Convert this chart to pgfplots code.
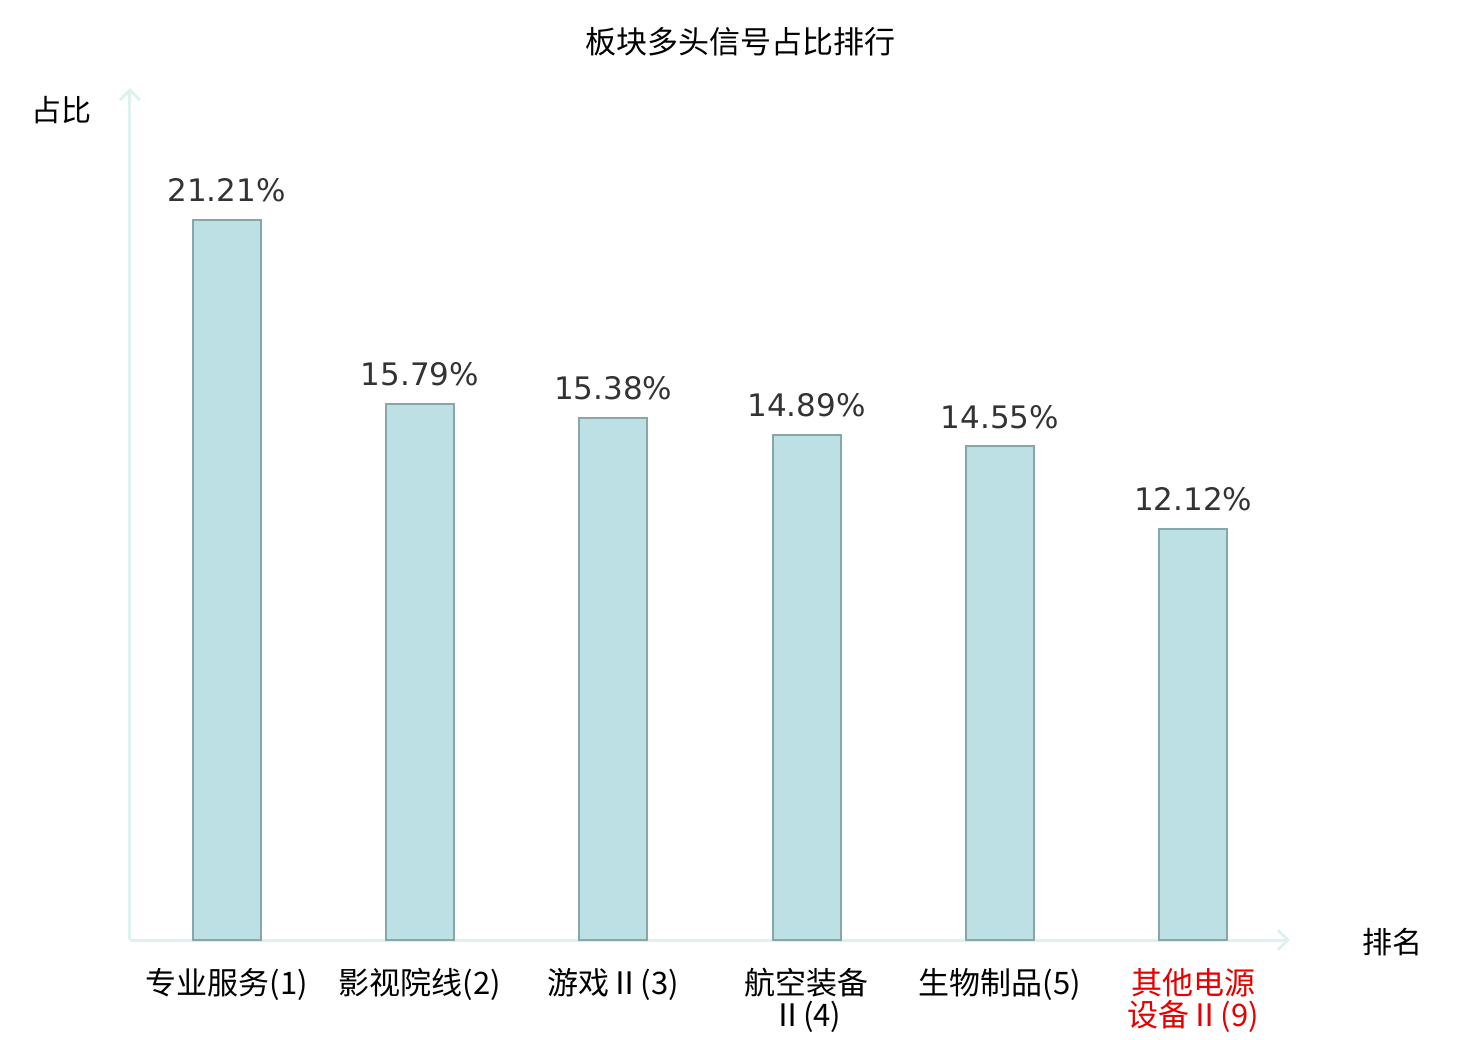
\documentclass[border=0pt]{standalone}
\usepackage{pgfplots}
\pgfplotsset{compat=1.18}
\usepackage{fontspec}
\setmainfont{DejaVu Sans}
\newfontfamily\cjk{Noto Sans CJK SC}
\usetikzlibrary{arrows.meta}
\definecolor{barfill}{HTML}{BCE0E3}
\definecolor{baredge}{HTML}{86A6A8}
\definecolor{axiscol}{HTML}{DDF2EF}
\definecolor{labred}{HTML}{E60000}
\definecolor{valcol}{HTML}{333333}
\begin{document}
\begin{tikzpicture}
\useasboundingbox (-65pt,-50pt) rectangle (675pt,470pt);
\begin{axis}[
  at={(0,0)}, anchor=south west,
  scale only axis, width=580pt, height=426pt,
  xmin=-0.5, xmax=5.5, ymin=0, ymax=25.1,
  axis x line=bottom, axis y line=left,
  axis line style={draw=axiscol, line width=1.5pt, -{Straight Barb[length=5pt,width=10pt]}},
  ytick=\empty,
  xtick={0,1,2,3,4,5},
  major tick length=0pt,
  xticklabels={{专业服务(1)},{影视院线(2)},{游戏Ⅱ(3)},{航空装备\\Ⅱ(4)},{生物制品(5)},{\textcolor{labred}{其他电源}\\\textcolor{labred}{设备Ⅱ(9)}}},
  xticklabel style={font=\cjk\fontsize{15.5pt}{16pt}\selectfont, align=center, text=black, anchor=north, yshift=-10.5pt},
  ybar, bar width=34pt,
  /pgf/number format/assume math mode=true,
  nodes near coords={\pgfmathprintnumber[fixed,fixed zerofill,precision=2,assume math mode=true]{\pgfplotspointmeta}\%},
  nodes near coords style={font=\fontsize{15.5pt}{16pt}\selectfont, text=valcol, yshift=5pt},
  clip=false,
]
\addplot[fill=barfill, draw=baredge, line width=1pt] coordinates {(0,21.21) (1,15.79) (2,15.38) (3,14.89) (4,14.55) (5,12.12)};
\end{axis}
\node[font=\cjk\fontsize{15.5pt}{16pt}\selectfont] at (305pt,449pt) {板块多头信号占比排行};
\node[font=\cjk\fontsize{15pt}{16pt}\selectfont] at (-34pt,415pt) {占比};
\node[font=\cjk\fontsize{15pt}{16pt}\selectfont] at (631pt,-1pt) {排名};
\end{tikzpicture}
\end{document}
